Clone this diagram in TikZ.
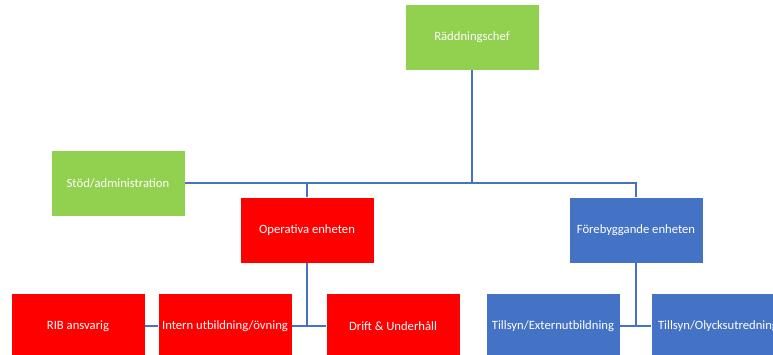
\documentclass[tikz,border=0pt]{standalone}
\usepackage{fontspec}
\setmainfont{Carlito}
\usetikzlibrary{calc}

\definecolor{orggreen}{HTML}{92D050}
\definecolor{orgred}{HTML}{FF0000}
\definecolor{orgblue}{HTML}{4472C4}

\begin{document}
\begin{tikzpicture}[x=0.03cm, y=-0.03cm,
	box/.style={minimum width=4.02cm, minimum height=1.98cm, inner sep=0pt,
		text=white, font=\fontsize{10.8}{13}\selectfont, draw=white, line width=.4pt},
	conn/.style={draw=orgblue, line width=1.6pt}]
	\clip (0,0) rectangle (773,354);
	\fill[white] (0,0) rectangle (773,354);
	% top level
	\node[box, fill=orggreen] (chef) at (472,37) {Räddningschef};
	\node[box, fill=orggreen] (stod) at (118,183) {Stöd/administration};
	% units
	\node[box, fill=orgred] (oper) at (307,230) {Operativa enheten};
	\node[box, fill=orgblue] (fore) at (636,230) {Förebyggande enheten};
	% bottom row
	\node[box, fill=orgred] (rib) at (78,326) {RIB ansvarig};
	\node[box, fill=orgred] (intern) at (225,326) {Intern utbildning/övning};
	\node[box, fill=orgred] (drift) at (393,326) {Drift \& Underhåll};
	\node[box, fill=orgblue] (extern) at (553,326) {Tillsyn/Externutbildning};
	\node[box, fill=orgblue] (olyck) at (718,326) {Tillsyn/Olycksutredning};
	% connectors
	\draw[conn] (chef.south) -- (chef.south |- stod.east);
	\draw[conn] (stod.east) -- (stod.east -| fore.north) -- (fore.north);
	\draw[conn] (oper.north |- stod.east) -- (oper.north);
	\draw[conn] (oper.south) -- (oper.south |- intern.east);
	\draw[conn] (intern.east) -- (drift.west);
	\draw[conn] (rib.east) -- (intern.west);
	\draw[conn] (fore.south) -- (fore.south |- extern.east);
	\draw[conn] (extern.east) -- (olyck.west);
\end{tikzpicture}
\end{document}
